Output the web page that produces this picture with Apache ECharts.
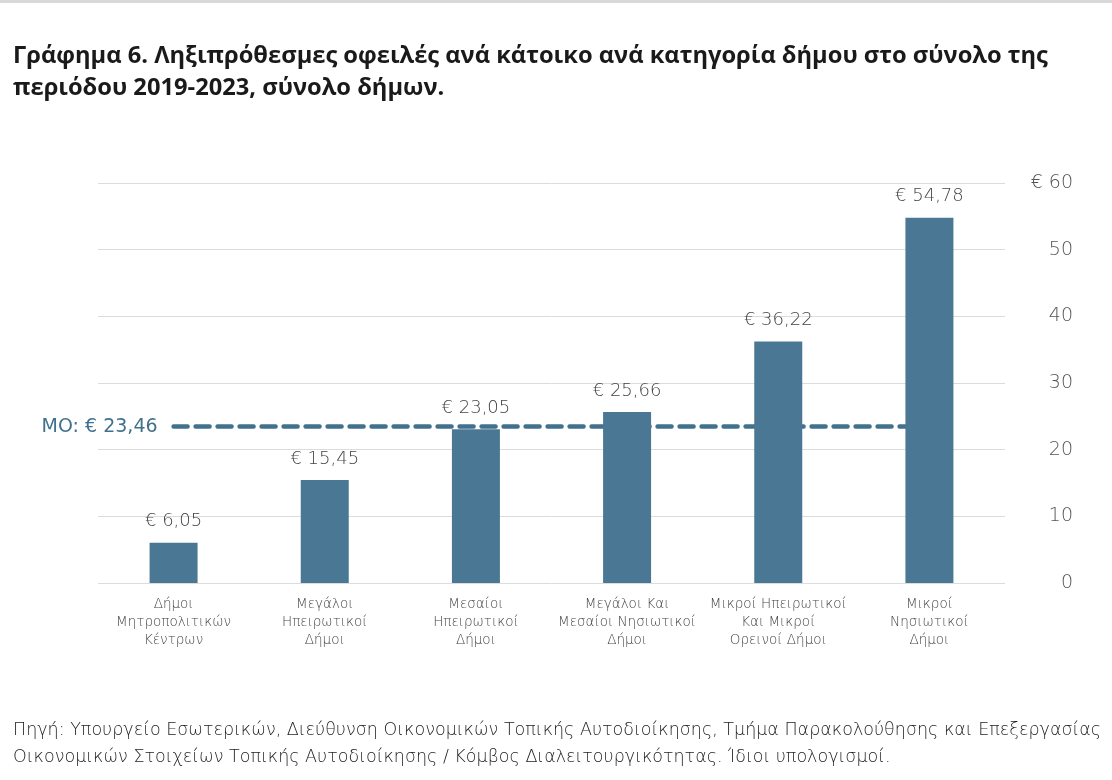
<!DOCTYPE html>
<html><head><meta charset="utf-8">
<script src="https://cdn.jsdelivr.net/npm/echarts@6/dist/echarts.min.js"></script>
<style>html,body{margin:0;padding:0;background:#fff;}#c{width:1112px;height:780px;}</style>
</head><body><div id="c"></div>
<script>
const titleText = 'Γράφημα 6. Ληξιπρόθεσμες οφειλές ανά κάτοικο ανά κατηγορία δήμου στο σύνολο της\nπεριόδου 2019-2023, σύνολο δήμων.';
const sourceText = 'Πηγή: Υπουργείο Εσωτερικών, Διεύθυνση Οικονομικών Τοπικής Αυτοδιοίκησης, Τμήμα Παρακολούθησης και Επεξεργασίας\nΟικονομικών Στοιχείων Τοπικής Αυτοδιοίκησης / Κόμβος Διαλειτουργικότητας. Ίδιοι υπολογισμοί.';
const categories = ['Δήμοι\nΜητροπολιτικών\nΚέντρων','Μεγάλοι\nΗπειρωτικοί\nΔήμοι','Μεσαίοι\nΗπειρωτικοί\nΔήμοι','Μεγάλοι Και\nΜεσαίοι Νησιωτικοί\nΔήμοι','Μικροί Ηπειρωτικοί\nΚαι Μικροί\nΟρεινοί Δήμοι','Μικροί\nΝησιωτικοί\nΔήμοι'];
const values = [6.05, 15.45, 23.05, 25.66, 36.22, 54.78];
const averageValue = 23.46;
const averageLabel = 'MO: € 23,46';
const yMin = 0, yMax = 60, yInterval = 10;

const fmt = v => '€ ' + v.toFixed(2).replace('.', ',');
const font = '"DejaVu Sans", sans-serif';
const chart = echarts.init(document.getElementById('c'), null, {renderer:'canvas'});
chart.setOption({
  backgroundColor: '#fff',
  animation: false,
  graphic: [
    {type:'rect', left:0, top:0, shape:{width:1112, height:3}, style:{fill:'#d9d9d9'}},
    {type:'text', left:13, top:40, style:{text:titleText, font:'bold 23.7px "Open Sans", sans-serif', fill:'#1a1a1a', lineHeight:32}},
    {type:'text', left:13, top:717, style:{text:sourceText, font:'200 17.5px '+font, fill:'#222', lineHeight:27}}
  ],
  grid: {left:98, right:107, top:183, bottom:197},
  xAxis: {
    type:'category', data:categories,
    axisLine:{show:false}, axisTick:{show:false},
    axisLabel:{color:'#444', fontFamily:font, fontWeight:200, fontSize:13.5, lineHeight:18, margin:12, interval:0}
  },
  yAxis: {
    type:'value', position:'right', min:yMin, max:yMax, interval:yInterval,
    splitLine:{lineStyle:{color:'#dcdcdc', width:1}},
    axisLine:{show:false}, axisTick:{show:false},
    axisLabel:{color:'#555', fontFamily:font, fontWeight:200, fontSize:19, align:'right', margin:68,
      formatter: v => v === yMax ? '€ ' + v : String(v)}
  },
  series: [
    {
      type:'line', data: categories.map(() => averageValue), z:1,
      symbol:'none', silent:true,
      lineStyle:{color:'#41718c', width:4.5, type:[14,8], cap:'round'},
      markPoint:{
        symbol:'circle', symbolSize:0,
        data:[{coord:[0, averageValue], value:averageValue}],
        label:{show:true, position:'left', distance:16, formatter:averageLabel, color:'#41718c', fontFamily:font, fontWeight:'normal', fontSize:19}
      }
    },
    {
      type:'bar', data: values, z:2, barWidth:48,
      itemStyle:{color:'#4a7894'},
      label:{show:true, position:'top', distance:12, formatter: p => fmt(p.value), color:'#444', fontFamily:font, fontWeight:200, fontSize:18}
    }
  ]
});
</script></body></html>
